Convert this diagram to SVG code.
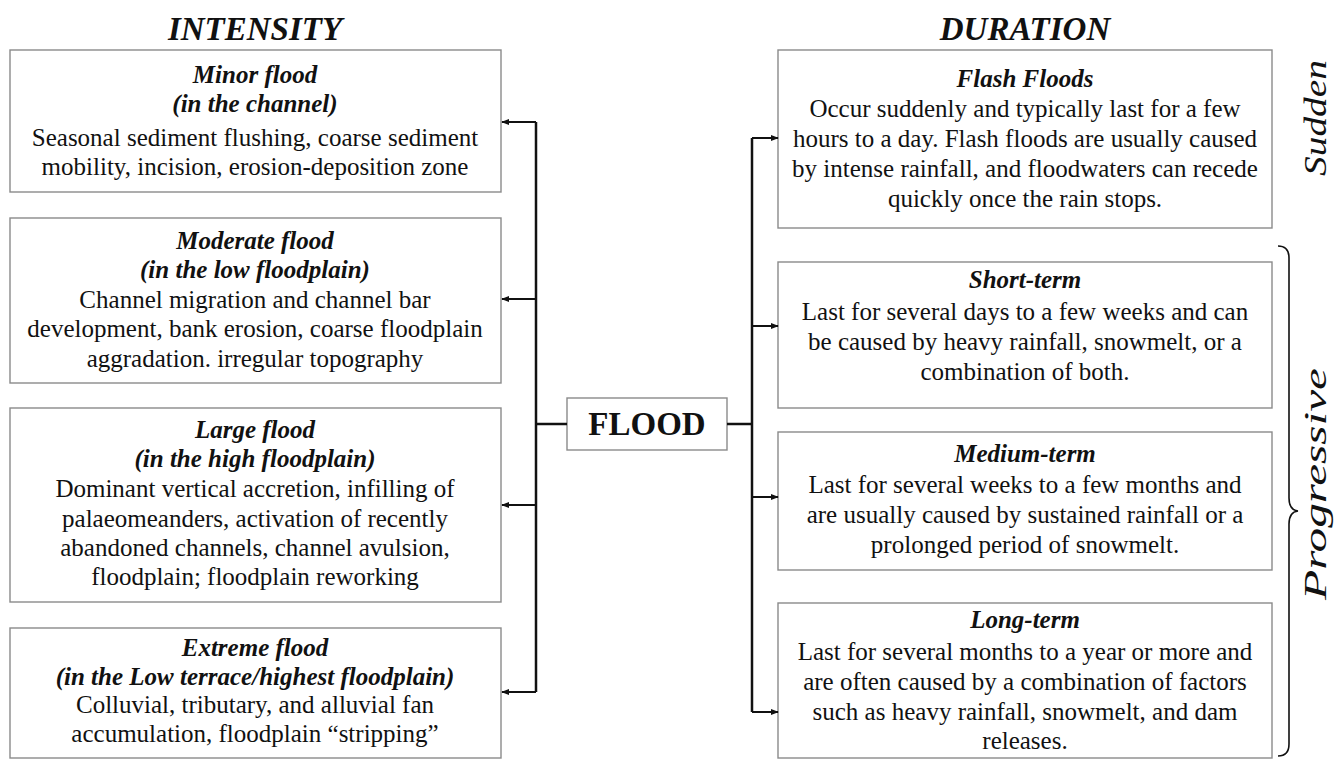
<svg xmlns="http://www.w3.org/2000/svg" width="1336" height="760" viewBox="0 0 1336 760">
<defs>
<style>
.box{fill:#fff;stroke:#8a8a8a;stroke-width:1.4}
.t{font-family:"Liberation Serif","Times New Roman",serif;font-size:25px;fill:#111;text-anchor:middle}
.h{font-style:italic;font-weight:bold}
.title{font-family:"Liberation Serif","Times New Roman",serif;font-size:33px;font-style:italic;font-weight:bold;fill:#111;text-anchor:middle}
.side{font-family:"Liberation Serif","Times New Roman",serif;font-size:31px;font-style:italic;fill:#111;text-anchor:middle}
.ln{fill:none;stroke:#111;stroke-width:2.5}
.ar{fill:none;stroke:#111;stroke-width:2}
</style>
<marker id="ah" viewBox="0 0 10 10" refX="9" refY="5" markerWidth="4" markerHeight="4" orient="auto" markerUnits="strokeWidth">
<path d="M0,1 L10,5 L0,9 z" fill="#111"/>
</marker>
</defs>
<rect width="1336" height="760" fill="#fff"/>

<text class="title" x="255" y="40">INTENSITY</text>
<text class="title" x="1025" y="40">DURATION</text>

<g id="minor">
<rect class="box" x="10" y="50" width="491" height="142"/>
<text class="t h" x="255" y="83">Minor flood</text>
<text class="t h" x="255" y="112">(in the channel)</text>
<text class="t" x="255" y="146">Seasonal sediment flushing, coarse sediment</text>
<text class="t" x="255" y="175">mobility, incision, erosion-deposition zone</text>
</g>

<g id="moderate">
<rect class="box" x="10" y="218" width="491" height="165"/>
<text class="t h" x="255" y="249">Moderate flood</text>
<text class="t h" x="255" y="278">(in the low floodplain)</text>
<text class="t" x="255" y="308">Channel migration and channel bar</text>
<text class="t" x="255" y="337">development, bank erosion, coarse floodplain</text>
<text class="t" x="255" y="367">aggradation. irregular topography</text>
</g>

<g id="large">
<rect class="box" x="10" y="408" width="491" height="194"/>
<text class="t h" x="255" y="438">Large flood</text>
<text class="t h" x="255" y="467">(in the high floodplain)</text>
<text class="t" x="255" y="497">Dominant vertical accretion, infilling of</text>
<text class="t" x="255" y="527">palaeomeanders, activation of recently</text>
<text class="t" x="255" y="556">abandoned channels, channel avulsion,</text>
<text class="t" x="255" y="585">floodplain; floodplain reworking</text>
</g>

<g id="extreme">
<rect class="box" x="10" y="628" width="491" height="130"/>
<text class="t h" x="255" y="656">Extreme flood</text>
<text class="t h" x="255" y="685">(in the Low terrace/highest floodplain)</text>
<text class="t" x="255" y="713">Colluvial, tributary, and alluvial fan</text>
<text class="t" x="255" y="742">accumulation, floodplain “stripping”</text>
</g>

<g id="flood">
<rect class="box" x="567" y="398" width="160" height="52"/>
<text x="647" y="435" style="font-family:'Liberation Serif','Times New Roman',serif;font-size:33px;font-weight:bold;fill:#111;text-anchor:middle">FLOOD</text>
</g>

<g id="flash">
<rect class="box" x="778" y="50" width="494" height="178"/>
<text class="t h" x="1025" y="87">Flash Floods</text>
<text class="t" x="1025" y="117">Occur suddenly and typically last for a few</text>
<text class="t" x="1025" y="147">hours to a day. Flash floods are usually caused</text>
<text class="t" x="1025" y="177">by intense rainfall, and floodwaters can recede</text>
<text class="t" x="1025" y="207">quickly once the rain stops.</text>
</g>

<g id="short">
<rect class="box" x="778" y="262" width="494" height="146"/>
<text class="t h" x="1025" y="288">Short-term</text>
<text class="t" x="1025" y="320">Last for several days to a few weeks and can</text>
<text class="t" x="1025" y="350">be caused by heavy rainfall, snowmelt, or a</text>
<text class="t" x="1025" y="380">combination of both.</text>
</g>

<g id="medium">
<rect class="box" x="778" y="432" width="494" height="138"/>
<text class="t h" x="1025" y="462">Medium-term</text>
<text class="t" x="1025" y="493">Last for several weeks to a few months and</text>
<text class="t" x="1025" y="523">are usually caused by sustained rainfall or a</text>
<text class="t" x="1025" y="553">prolonged period of snowmelt.</text>
</g>

<g id="long">
<rect class="box" x="778" y="603" width="494" height="155"/>
<text class="t h" x="1025" y="628">Long-term</text>
<text class="t" x="1025" y="660">Last for several months to a year or more and</text>
<text class="t" x="1025" y="690">are often caused by a combination of factors</text>
<text class="t" x="1025" y="720">such as heavy rainfall, snowmelt, and dam</text>
<text class="t" x="1025" y="749">releases.</text>
</g>

<g id="labels">
<text class="side" transform="translate(1326,118) rotate(-90)" textLength="116" lengthAdjust="spacingAndGlyphs">Sudden</text>
<text class="side" transform="translate(1326,484) rotate(-90)" textLength="232" lengthAdjust="spacingAndGlyphs">Progressive</text>
<path d="M1278,246 Q1289,246 1289,258 L1289,498 Q1289,510 1298,511 Q1289,512 1289,524 L1289,744 Q1289,756 1278,756" fill="none" stroke="#111" stroke-width="1.6"/>
</g>

<g id="connectors">
<path class="ln" d="M536,122 L536,692"/>
<path class="ln" d="M536,424 L567,424"/>
<path class="ln" d="M727,424 L752,424"/>
<path class="ln" d="M752,138 L752,712"/>
<path class="ar" d="M536,122 L502,122" marker-end="url(#ah)"/>
<path class="ar" d="M536,299 L502,299" marker-end="url(#ah)"/>
<path class="ar" d="M536,505 L502,505" marker-end="url(#ah)"/>
<path class="ar" d="M536,692 L502,692" marker-end="url(#ah)"/>
<path class="ar" d="M752,138 L778,138" marker-end="url(#ah)"/>
<path class="ar" d="M752,326 L778,326" marker-end="url(#ah)"/>
<path class="ar" d="M752,497 L778,497" marker-end="url(#ah)"/>
<path class="ar" d="M752,712 L778,712" marker-end="url(#ah)"/>
</g>
</svg>
